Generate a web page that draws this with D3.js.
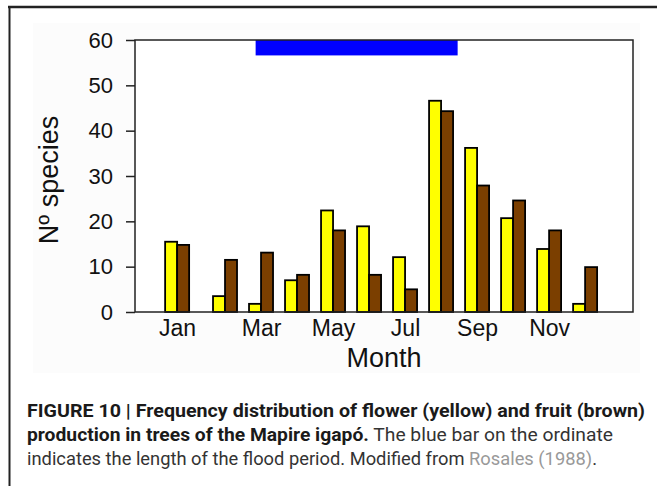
<!DOCTYPE html>
<meta charset="utf-8">
<script src="https://d3js.org/d3.v7.min.js"></script>
<style>
  body { margin: 0; background: #fff; }
</style>
<div id="my_dataviz"></div>
<script>

    // data
    var months = ["Jan", "Feb", "Mar", "Apr", "May", "Jun", "Jul", "Aug", "Sep", "Oct", "Nov", "Dec"];
    var monthPos = [0.67, 2, 3, 4, 5, 6, 7, 8, 9, 10, 11, 12];
    var flowers = [15.5, 3.5, 1.8, 7.0, 22.4, 18.9, 12.1, 46.6, 36.2, 20.7, 13.9, 1.8];
    var fruits = [14.8, 11.5, 13.1, 8.2, 18.0, 8.2, 5.0, 44.3, 27.9, 24.6, 18.0, 9.9];
    var flood = [2.85, 8.46];
    var floodLevel = 56.6;
    var yTicks = [0, 10, 20, 30, 40, 50, 60];
    var xLabels = ["Jan", "Mar", "May", "Jul", "Sep", "Nov"];

    var W = 657, H = 486;
    var margin = {top: 40, left: 135},
        width = 498,
        height = 272;

    var root = d3.select("#my_dataviz")
        .append("svg")
        .attr("width", W)
        .attr("height", H)

    // page frame
    root.append("line")
        .attr("x1", 8).attr("x2", W).attr("y1", 7).attr("y2", 7)
        .attr("stroke", "#222").attr("stroke-width", 2.5)
    root.append("line")
        .attr("x1", 9.5).attr("x2", 9.5).attr("y1", 6).attr("y2", H)
        .attr("stroke", "#222").attr("stroke-width", 2)

    // faint background of the figure image
    root.append("rect")
        .attr("x", 33).attr("y", 23)
        .attr("width", 607).attr("height", 350)
        .attr("fill", "#fcfcfc")

    var svg = root.append("g")
        .attr("transform", "translate(" + margin.left + "," + margin.top + ")")

    svg.append("rect")
        .attr("width", width).attr("height", height)
        .attr("fill", "#fff")

    // scales
    var x = d3.scaleLinear()
        .domain([-0.5, 13.33])
        .range([0, width])
    var y = d3.scaleLinear()
        .domain([0, 60])
        .range([height, 0])
    var bw = 1 / 3;

    // flood period
    svg.append("rect")
        .attr("x", x(flood[0]))
        .attr("y", y(60))
        .attr("width", x(flood[1]) - x(flood[0]))
        .attr("height", y(floodLevel) - y(60))
        .attr("fill", "#0000ff")

    // bars
    var data = months.map(function(m, i) {
        return {month: m, pos: monthPos[i], flower: flowers[i], fruit: fruits[i]};
    });

    svg.append("g").selectAll("rect")
        .data(data)
        .enter()
        .append("rect")
        .attr("x", function(d) { return x(d.pos - bw); })
        .attr("y", function(d) { return y(d.flower); })
        .attr("width", x(bw) - x(0))
        .attr("height", function(d) { return y(0) - y(d.flower); })
        .attr("fill", "#ffff00")
        .attr("stroke", "#000")
        .attr("stroke-width", 1.8)

    svg.append("g").selectAll("rect")
        .data(data)
        .enter()
        .append("rect")
        .attr("x", function(d) { return x(d.pos); })
        .attr("y", function(d) { return y(d.fruit); })
        .attr("width", x(bw) - x(0))
        .attr("height", function(d) { return y(0) - y(d.fruit); })
        .attr("fill", "#7b3f00")
        .attr("stroke", "#000")
        .attr("stroke-width", 1.8)

    // plot frame
    svg.append("rect")
        .attr("width", width).attr("height", height)
        .attr("fill", "none")
        .attr("stroke", "#222")
        .attr("stroke-width", 1.5)

    // Y axis
    var yAxis = svg.append("g")
        .call(d3.axisLeft(y).tickValues(yTicks).tickSize(9).tickPadding(13))
    yAxis.select(".domain").remove()
    yAxis.selectAll(".tick line").attr("stroke", "#222").attr("stroke-width", 1.5)
    yAxis.selectAll("text")
        .attr("font-family", "Liberation Sans, Arial, sans-serif")
        .attr("font-size", 22)
        .attr("fill", "#111")

    // X axis
    var xAxis = svg.append("g")
        .attr("transform", "translate(0," + height + ")")
        .call(d3.axisBottom(x)
            .tickValues(xLabels.map(function(m) { return monthPos[months.indexOf(m)]; }))
            .tickFormat(function(v) { return months[monthPos.indexOf(v)]; })
            .tickSize(0).tickPadding(8))
    xAxis.select(".domain").remove()
    xAxis.selectAll("text")
        .attr("font-family", "Liberation Sans, Arial, sans-serif")
        .attr("font-size", 23)
        .attr("fill", "#111")

    // axis titles
    svg.append("text")
        .attr("text-anchor", "middle")
        .attr("x", 384 - margin.left)
        .attr("y", height + 55)
        .attr("font-family", "Liberation Sans, Arial, sans-serif")
        .attr("font-size", 27)
        .attr("fill", "#111")
        .text("Month");

    svg.append("text")
        .attr("text-anchor", "middle")
        .attr("transform", "rotate(-90)")
        .attr("x", -(180 - margin.top))
        .attr("y", 58 - margin.left)
        .attr("font-family", "Liberation Sans, Arial, sans-serif")
        .attr("font-size", 27)
        .attr("fill", "#111")
        .text("N\u00ba species");

    // caption
    var cap = root.append("g")
        .attr("font-family", "Roboto, sans-serif")
        .attr("font-size", 18.5)

    var l1 = cap.append("text")
        .attr("x", 27).attr("y", 417)
        .attr("textLength", 618).attr("lengthAdjust", "spacingAndGlyphs")
        .attr("font-weight", "bold").attr("fill", "#1a1a1a")
        .text("FIGURE 10 | Frequency distribution of flower (yellow) and fruit (brown)")

    var l2 = cap.append("text")
        .attr("x", 27).attr("y", 441)
        .attr("textLength", 586).attr("lengthAdjust", "spacingAndGlyphs")
    l2.append("tspan").attr("font-weight", "bold").attr("fill", "#1a1a1a")
        .text("production in trees of the Mapire igap\u00f3.")
    l2.append("tspan").attr("fill", "#333")
        .text(" The blue bar on the ordinate")

    var l3 = cap.append("text")
        .attr("x", 27).attr("y", 465)
        .attr("textLength", 570).attr("lengthAdjust", "spacingAndGlyphs")
    l3.append("tspan").attr("fill", "#333")
        .text("indicates the length of the flood period. Modified from ")
    l3.append("tspan").attr("fill", "#999")
        .text("Rosales (1988)")
    l3.append("tspan").attr("fill", "#333")
        .text(".")

</script>
